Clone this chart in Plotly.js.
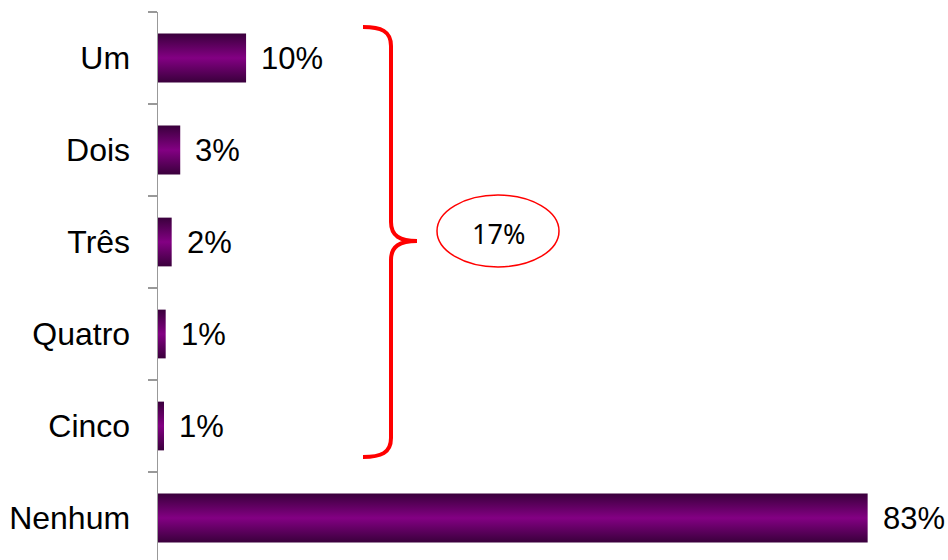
<!DOCTYPE html>
<html>
<head>
<meta charset="utf-8">
<script src="https://cdn.plot.ly/plotly-3.0.1.min.js"></script>
<style>
  html, body { margin: 0; padding: 0; background: #ffffff; }
  #chart { width: 948px; height: 560px; }
</style>
</head>
<body>
<div id="chart"></div>
<script>
// ---- data ----
const categories = ["Um", "Dois", "Três", "Quatro", "Cinco", "Nenhum"];
const shares = [0.103, 0.026, 0.016, 0.009, 0.007, 0.83];
const groupLabel = "17%";   // total of Um..Cinco as printed in the chart

// ---- layout helpers (pixel -> paper for decorations) ----
const W = 948, H = 560;
const M = { l: 158, r: 20, t: 12, b: 0 };
const plotW = W - M.l - M.r, plotH = H - M.t - M.b;
const pxPerUnit = 855;           // horizontal scale
const catPx = 92;                // pixels per category
function px(x) { return (x - M.l) / plotW; }
function py(y) { return (H - M.b - y) / plotH; }

const trace = {
  type: "bar",
  orientation: "h",
  y: categories,
  x: shares,
  width: 0.53,
  marker: { color: "#800080", line: { width: 0 } },
  hoverinfo: "skip"
};

const valueAnnotations = categories.map((c, i) => ({
  x: shares[i],
  y: c,
  xref: "x",
  yref: "y",
  text: Math.round(shares[i] * 100) + "%",
  showarrow: false,
  xanchor: "left",
  yanchor: "middle",
  xshift: 13,
  font: { family: "Liberation Sans, Arial, sans-serif", size: 31, color: "#000000" }
}));

const bracePath = [
  `M ${px(363)} ${py(27)}`,
  `C ${px(381)} ${py(27)}, ${px(391)} ${py(31)}, ${px(391)} ${py(46)}`,
  `L ${px(391)} ${py(222)}`,
  `C ${px(391)} ${py(236)}, ${px(400)} ${py(241)}, ${px(417)} ${py(241)}`,
  `C ${px(400)} ${py(241)}, ${px(391)} ${py(246)}, ${px(391)} ${py(260)}`,
  `L ${px(391)} ${py(438)}`,
  `C ${px(391)} ${py(453)}, ${px(381)} ${py(457)}, ${px(363)} ${py(457)}`
].join(" ");

const layout = {
  width: W,
  height: H,
  margin: M,
  paper_bgcolor: "#ffffff",
  plot_bgcolor: "#ffffff",
  showlegend: false,
  xaxis: {
    range: [0, plotW / pxPerUnit],
    visible: false,
    showgrid: false,
    zeroline: false,
    fixedrange: true
  },
  yaxis: {
    type: "category",
    range: [-0.5 + plotH / catPx, -0.5],
    showline: true,
    linecolor: "#999999",
    linewidth: 1.5,
    ticks: "outside",
    tickson: "boundaries",
    ticklen: 9,
    tickwidth: 1.5,
    tickcolor: "#999999",
    ticklabelstandoff: 20,
    showgrid: false,
    zeroline: false,
    tickfont: { family: "Liberation Sans, Arial, sans-serif", size: 32, color: "#000000" },
    fixedrange: true
  },
  shapes: [
    {
      type: "path",
      xref: "paper", yref: "paper",
      path: bracePath,
      line: { color: "#ff0000", width: 4 },
      layer: "above"
    },
    {
      type: "circle",
      xref: "paper", yref: "paper",
      x0: px(437), x1: px(559), y0: py(267), y1: py(195),
      line: { color: "#ff0000", width: 1.5 },
      fillcolor: "rgba(0,0,0,0)",
      layer: "above"
    }
  ],
  annotations: valueAnnotations.concat([{
    x: px(498), y: py(233),
    xref: "paper", yref: "paper",
    text: groupLabel,
    showarrow: false,
    xanchor: "center", yanchor: "middle",
    font: { family: "Noto Sans, Open Sans, sans-serif", size: 27, color: "#000000" }
  }])
};

Plotly.newPlot("chart", [trace], layout, { displayModeBar: false, staticPlot: true }).then(function (gd) {
  // vertical gradient on the bars (dark edges, bright purple middle)
  const svg = gd.querySelector(".main-svg");
  const ns = "http://www.w3.org/2000/svg";
  let defs = svg.querySelector("defs");
  if (!defs) { defs = document.createElementNS(ns, "defs"); svg.insertBefore(defs, svg.firstChild); }
  const grad = document.createElementNS(ns, "linearGradient");
  grad.setAttribute("id", "barGrad");
  grad.setAttribute("x1", "0"); grad.setAttribute("y1", "0");
  grad.setAttribute("x2", "0"); grad.setAttribute("y2", "1");
  [["0", "#3a003c"], ["0.5", "#830083"], ["1", "#3a003c"]].forEach(function (s) {
    const st = document.createElementNS(ns, "stop");
    st.setAttribute("offset", s[0]);
    st.setAttribute("stop-color", s[1]);
    grad.appendChild(st);
  });
  defs.appendChild(grad);
  gd.querySelectorAll(".barlayer .point path").forEach(function (p) {
    p.style.fill = "url(#barGrad)";
  });
});
</script>
</body>
</html>
